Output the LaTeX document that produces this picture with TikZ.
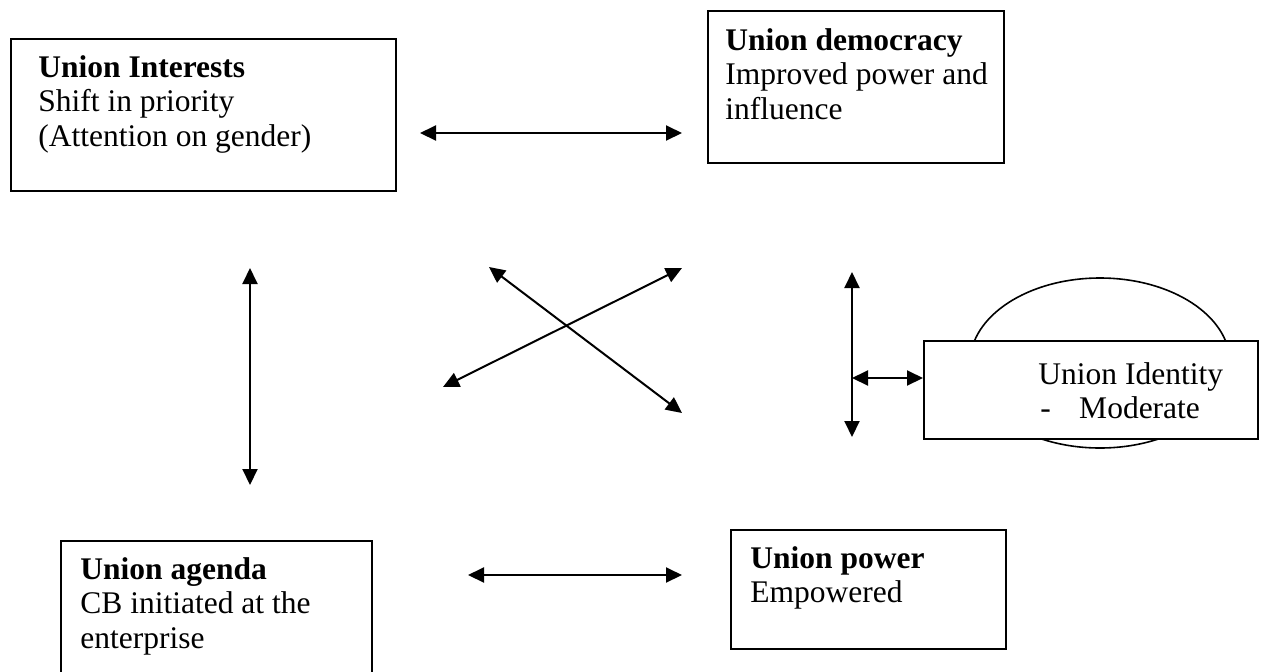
\documentclass[tikz,border=0pt]{standalone}
\usepackage{fontspec}
\setmainfont{Liberation Serif}
\usetikzlibrary{arrows.meta}
\begin{document}
\begin{tikzpicture}[x=0.5pt,y=-0.5pt,
  frame/.style={draw, line width=0.8pt, fill=white, inner sep=0pt, anchor=north west},
  caption/.style={anchor=north west, align=left, inner sep=0pt,
    font=\fontsize{15.75pt}{17.25pt}\selectfont},
  link/.style={line width=1pt, {Triangle[length=8pt,width=7.5pt]}-{Triangle[length=8pt,width=7.5pt]}}]
\clip (0,0) rectangle (1265,671);

% outcome boxes (caption nodes are placed by the top of their first line)
\node[frame, minimum width=192.5pt, minimum height=76pt] (interests) at (10,38) {};
\node[caption] (interestsTxt) at (38,55) {\textbf{Union Interests}\\Shift in priority\\(Attention on gender)};

\node[frame, minimum width=148pt, minimum height=76pt] (democracy) at (707,10) {};
\node[caption] (democracyTxt) at (725,28) {\textbf{Union democracy}\\Improved power and\\influence};

\node[frame, minimum width=155.5pt, minimum height=80pt] (agenda) at (60,540) {};
\node[caption] (agendaTxt) at (80,557) {\textbf{Union agenda}\\CB initiated at the\\enterprise};

\node[frame, minimum width=137.5pt, minimum height=59.5pt] (power) at (730,529) {};
\node[caption] (powerTxt) at (750,546) {\textbf{Union power}\\Empowered};

% identity: ellipse behind a box
\draw[line width=0.8pt] (1100,363) ellipse [x radius=130, y radius=85];
\node[frame, minimum width=167pt, minimum height=49pt] (identity) at (923,340) {};
\node[caption] (identityTxt) at (1038,362) {Union Identity\\\hspace*{1pt}-\hspace{0.9em}Moderate};

% arrow end points
\coordinate (abL) at (420,133);  \coordinate (abR) at (682,133);
\coordinate (vlT) at (250,268);  \coordinate (vlB) at (250,485);
\coordinate (xaSW) at (443,387); \coordinate (xaNE) at (682,268);
\coordinate (xbNW) at (489,267); \coordinate (xbSE) at (682,413);
\coordinate (vrT) at (852,272);  \coordinate (vrB) at (852,437);
\coordinate (idL) at (852,378);
\coordinate (cdL) at (468,575);  \coordinate (cdR) at (682,575);

% connectors
\draw[link] (abL) -- (abR);
\draw[link] (vlT) -- (vlB);
\draw[link] (xaSW) -- (xaNE);
\draw[link] (xbNW) -- (xbSE);
\draw[link] (vrT) -- (vrB);
\draw[link] (idL) -- (idL -| identity.west);
\draw[link] (cdL) -- (cdR);
\end{tikzpicture}
\end{document}
